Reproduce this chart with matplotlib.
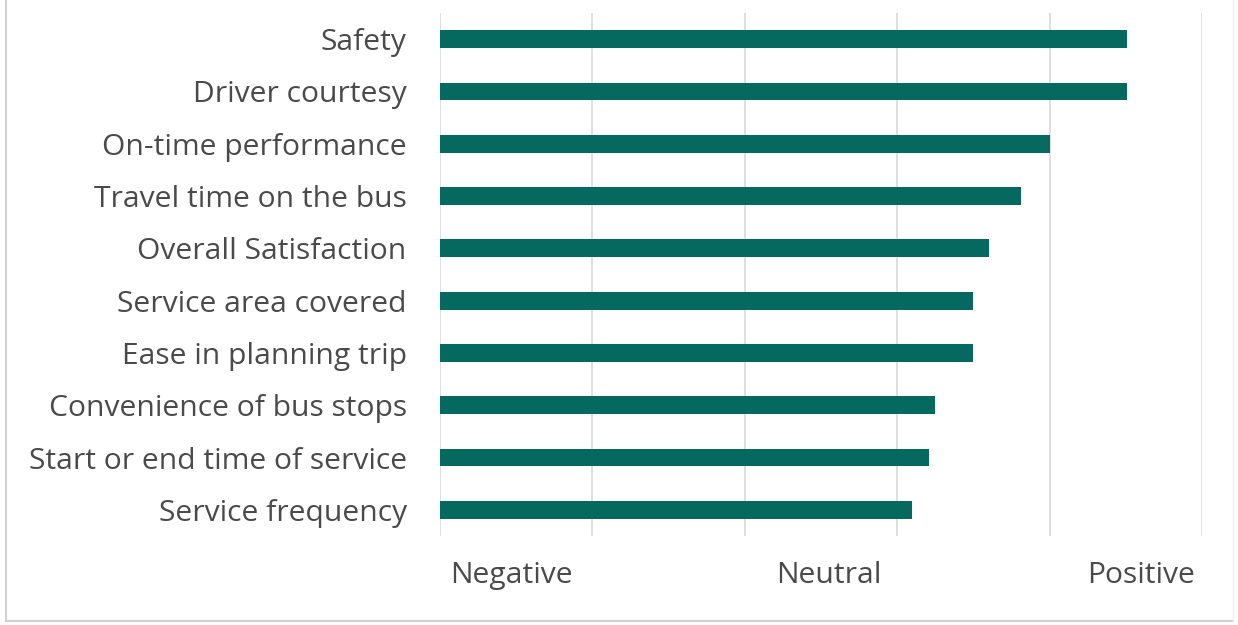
import matplotlib
matplotlib.use("Agg")
import matplotlib.pyplot as plt
from matplotlib.lines import Line2D

# Customer satisfaction ratings by service attribute
categories = [
    "Safety",
    "Driver courtesy",
    "On-time performance",
    "Travel time on the bus",
    "Overall Satisfaction",
    "Service area covered",
    "Ease in planning trip",
    "Convenience of bus stops",
    "Start or end time of service",
    "Service frequency",
]
scores = [4.51, 4.51, 4.00, 3.81, 3.60, 3.50, 3.50, 3.25, 3.21, 3.10]

scale_labels = ["Negative", "Neutral", "Positive"]
scale_label_pos = [0.47, 2.55, 4.60]
grid_values = [0, 1, 2, 3, 4, 5]

bar_color = "#05695F"
text_color = "#4A4A4A"
grid_color = "#D9D9D9"

plt.rcParams["font.family"] = ["Open Sans", "DejaVu Sans"]

W, H = 1238, 625
fig = plt.figure(figsize=(W / 100, H / 100), dpi=100)
fig.patch.set_facecolor("white")

ax = fig.add_axes([440 / W, (H - 536) / H, (1202 - 440) / W, (536 - 13) / H])

y = list(range(len(categories)))
ax.barh(y, scores, height=0.34, color=bar_color, zorder=3)

ax.set_xlim(0, 5)
ax.set_ylim(len(categories) - 0.5, -0.5)

ax.set_xticks(grid_values, minor=True)
ax.set_xticks(scale_label_pos)
ax.set_xticklabels(scale_labels)
ax.grid(axis="x", which="minor", color=grid_color, linewidth=1.2, zorder=0)
ax.grid(axis="x", which="major", visible=False)

ax.set_yticks(y)
ax.set_yticklabels(categories)

ax.tick_params(axis="both", which="both", length=0, colors=text_color, labelsize=21.6)
ax.tick_params(axis="y", pad=24)
ax.tick_params(axis="x", pad=18)

for s in ax.spines.values():
    s.set_visible(False)

# Thin frame around the chart area
fig.add_artist(Line2D([6 / W, 6 / W], [(H - 621) / H, 1], transform=fig.transFigure,
                      color="#D0D0D0", linewidth=1.5))
fig.add_artist(Line2D([6 / W, 1233 / W], [(H - 621) / H, (H - 621) / H],
                      transform=fig.transFigure, color="#D0D0D0", linewidth=1.5))
fig.add_artist(Line2D([1233 / W, 1233 / W], [(H - 621) / H, 1], transform=fig.transFigure,
                      color="#F0F0F0", linewidth=1.0))

fig.savefig("out.png", dpi=100, facecolor="white")
